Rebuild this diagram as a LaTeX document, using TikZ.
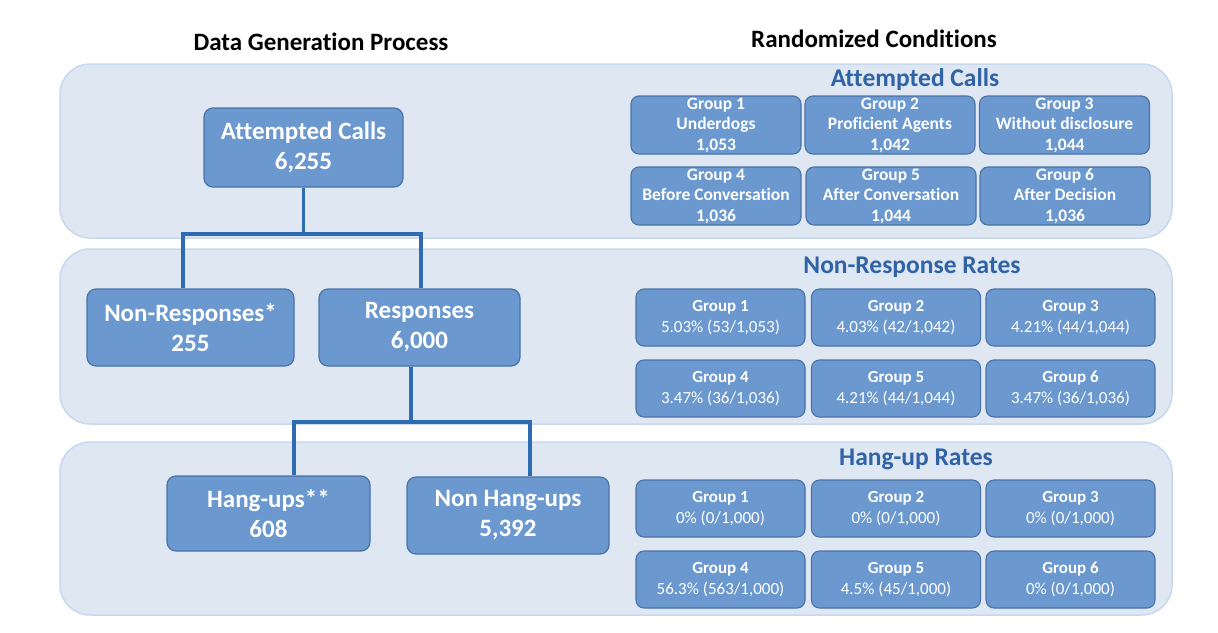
\documentclass[tikz,border=0pt]{standalone}
\usepackage{fontspec}
\setmainfont[Ligatures=NoCommon]{Carlito}
\definecolor{panelfill}{HTML}{DFE7F3}
\definecolor{paneldraw}{HTML}{C8D8EE}
\definecolor{boxfill}{HTML}{6A98CF}
\definecolor{boxdraw}{HTML}{4A73A6}
\definecolor{connblue}{HTML}{2F6BB3}
\definecolor{titleblue}{HTML}{2F63A6}
\tikzset{
  panel/.style={fill=panelfill,draw=paneldraw,line width=1.5pt,rounded corners=30pt},
  mainbox/.style={fill=boxfill,draw=boxdraw,line width=1.2pt,rounded corners=9pt,text=white,align=center,
    inner sep=0pt,font=\fontsize{25}{30}\selectfont\bfseries},
  gbox/.style={fill=boxfill,draw=boxdraw,line width=1.1pt,rounded corners=8pt,text=white,align=center,
    minimum width=170pt,minimum height=58pt,inner sep=0pt},
  gboxA/.style={gbox,font=\fontsize{17.5}{20.5}\selectfont\bfseries},
  gboxB/.style={gbox,minimum width=169pt,minimum height=57pt,font=\fontsize{17}{21}\selectfont},
  conn/.style={draw=connblue,line width=3.2pt},
  heading/.style={font=\fontsize{25}{28}\selectfont\bfseries,text=black},
  ptitle/.style={font=\fontsize{25.5}{28}\selectfont\bfseries,text=titleblue}
}
\begin{document}
\begin{tikzpicture}[x=1pt,y=-1pt]
\useasboundingbox (0,0) rectangle (1218,632);
\fill[white] (0,0) rectangle (1218,632);

% headings
\node[heading] (h1) at (321,42) {Data Generation Process};
\node[heading] (h2) at (874,39) {Randomized Conditions};

% panels
\draw[panel] (60,64) rectangle (1172,238);
\draw[panel] (60,249) rectangle (1172,424);
\draw[panel] (60,442) rectangle (1172,615);

% left flow nodes
\node[mainbox,minimum width=199pt,minimum height=79pt] (ac) at (303.5,147.5) {Attempted Calls\\6,255};
\node[mainbox,minimum width=207pt,minimum height=77pt] (nr) at (190.5,327.5) {Non-Responses*\\255};
\node[mainbox,minimum width=201pt,minimum height=77pt] (rs) at (419.5,327.5) {Responses\\6,000};
\node[mainbox,minimum width=203pt,minimum height=75pt] (hu) at (268.5,513.5) {Hang-ups**\\608};
\node[mainbox,minimum width=202pt,minimum height=77pt] (nh) at (508,515.5) {Non Hang-ups\\5,392};

% connectors
\coordinate (p1) at (183,234);
\coordinate (p2) at (421,234);
\draw[conn] (ac.south) -- (ac.south |- p1);
\draw[conn] (nr.north -| p1) |- (p2) -- (rs.north -| p2);
\coordinate (r0) at (411,422);
\coordinate (q1) at (294,422);
\coordinate (q2) at (530,422);
\draw[conn] (rs.south -| r0) -- (r0);
\draw[conn] (hu.north -| q1) |- (q2) -- (nh.north -| q2);

% panel titles
\node[ptitle] (t1) at (915,80) {Attempted Calls};
\node[ptitle] (t2) at (912,267) {Non-Response Rates};
\node[ptitle] (t3) at (916,459) {Hang-up Rates};

% attempted calls groups
\node[gboxA] (a1) at (716,125) {Group 1\\Underdogs\\1,053};
\node[gboxA] (a2) at (890,125) {Group 2\\Proficient Agents\\1,042};
\node[gboxA] (a3) at (1064.5,125) {Group 3\\Without disclosure\\1,044};
\node[gboxA] (a4) at (716,196) {Group 4\\Before Conversation\\1,036};
\node[gboxA] (a5) at (891,196) {Group 5\\After Conversation\\1,044};
\node[gboxA] (a6) at (1065,196) {Group 6\\After Decision\\1,036};

% non-response groups
\node[gboxB] (n1) at (720.5,317.5) {\textbf{Group 1}\\5.03\% (53/1,053)};
\node[gboxB] (n2) at (896,317.5) {\textbf{Group 2}\\4.03\% (42/1,042)};
\node[gboxB] (n3) at (1070.5,317.5) {\textbf{Group 3}\\4.21\% (44/1,044)};
\node[gboxB] (n4) at (720.5,388.5) {\textbf{Group 4}\\3.47\% (36/1,036)};
\node[gboxB] (n5) at (896,388.5) {\textbf{Group 5}\\4.21\% (44/1,044)};
\node[gboxB] (n6) at (1070.5,388.5) {\textbf{Group 6}\\3.47\% (36/1,036)};

% hang-up groups
\node[gboxB] (g1) at (720.5,508.5) {\textbf{Group 1}\\0\% (0/1,000)};
\node[gboxB] (g2) at (896,508.5) {\textbf{Group 2}\\0\% (0/1,000)};
\node[gboxB] (g3) at (1070.5,508.5) {\textbf{Group 3}\\0\% (0/1,000)};
\node[gboxB] (g4) at (720.5,579.5) {\textbf{Group 4}\\56.3\% (563/1,000)};
\node[gboxB] (g5) at (896,579.5) {\textbf{Group 5}\\4.5\% (45/1,000)};
\node[gboxB] (g6) at (1070.5,579.5) {\textbf{Group 6}\\0\% (0/1,000)};
\end{tikzpicture}
\end{document}
